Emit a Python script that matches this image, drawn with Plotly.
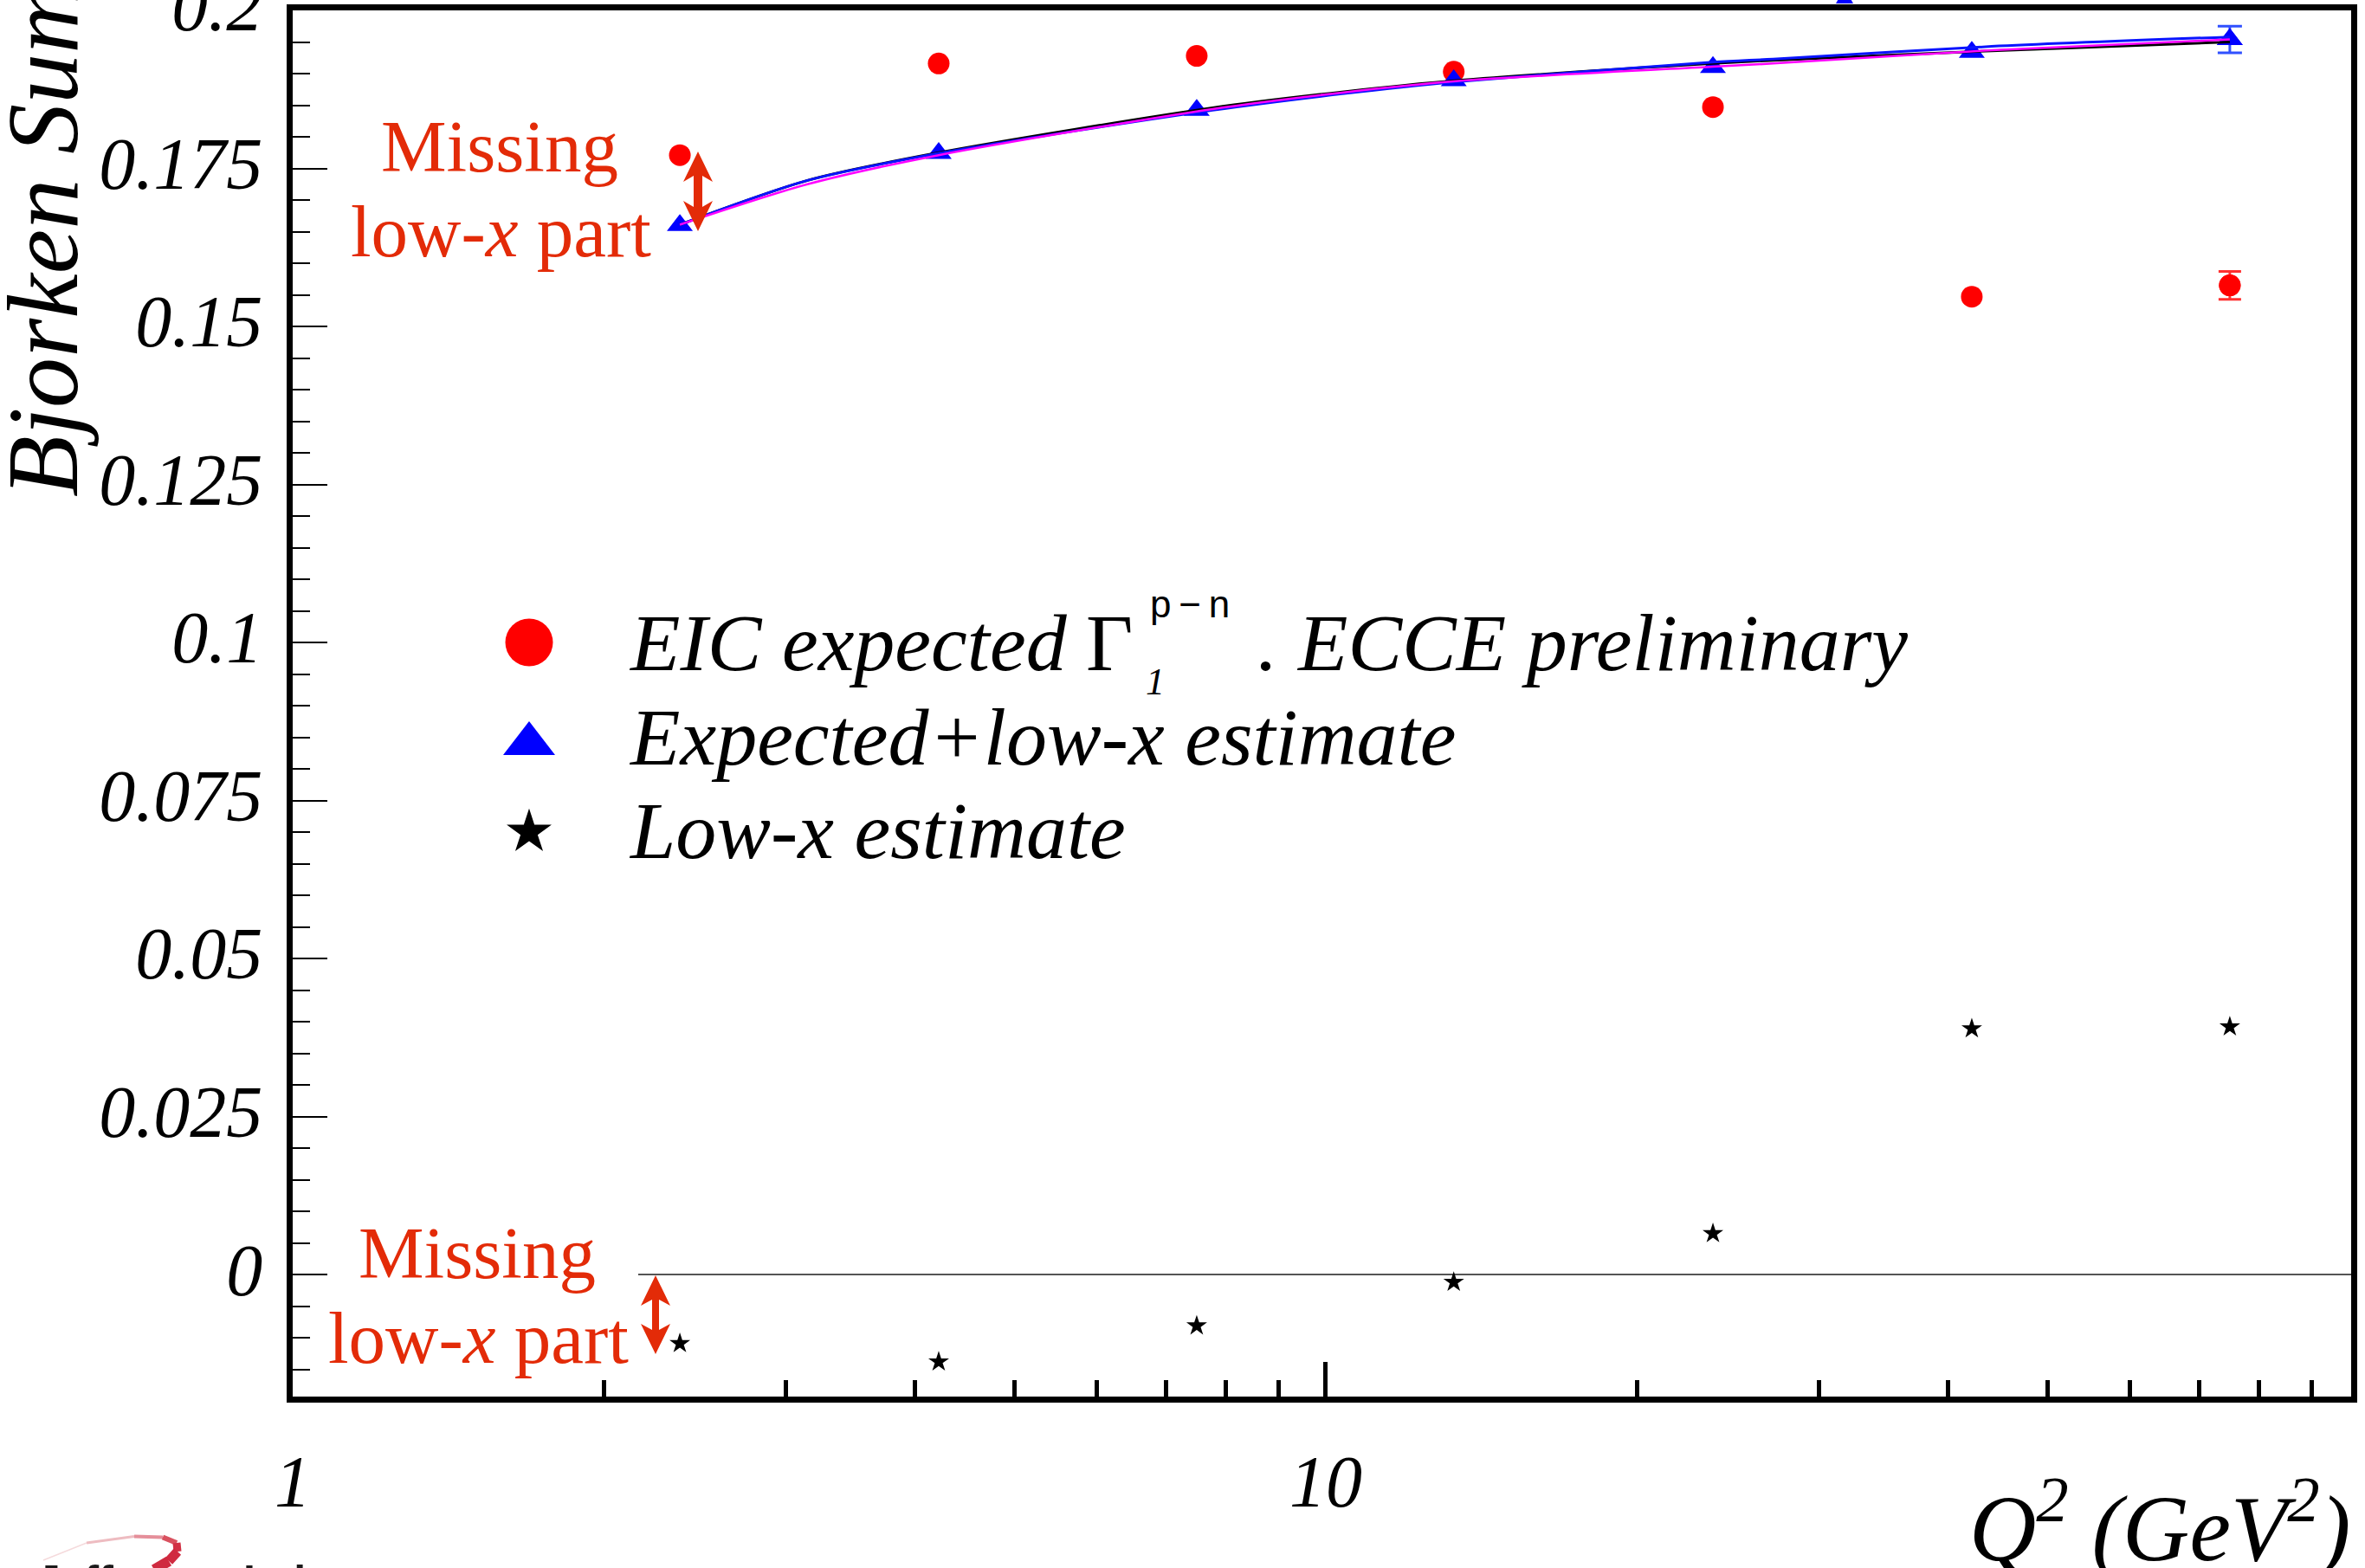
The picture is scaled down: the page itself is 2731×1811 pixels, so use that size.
import plotly.graph_objects as go

# ---------------------------------------------------------------- data
# Q^2 bins (GeV^2)
q2 = [2.37, 4.22, 7.5, 13.3, 23.7, 42.2, 75.0]

# EIC expected Gamma_1^{p-n} (ECCE preliminary)
gamma1_expected = [0.1771, 0.1916, 0.1928, 0.1903, 0.1847, 0.1547, 0.1565]
gamma1_expected_err = [0, 0, 0, 0, 0, 0, 0.0022]

# expected + low-x estimate
gamma1_total = [0.1660, 0.1774, 0.1842, 0.1889, 0.1910, 0.1934, 0.1954]
gamma1_total_err = [0, 0, 0, 0, 0, 0, 0.0021]

# low-x estimate alone
lowx_estimate = [-0.0109, -0.0138, -0.0081, -0.0012, 0.0065, 0.0389, 0.0392]

# pQCD expectations for the Bjorken sum
curve_q2 = [2.37, 3.15, 4.22, 7.77, 10.37, 13.36, 23.7, 27.1, 44.1, 75.0]
curve_blue = [0.1661, 0.1731, 0.1774, 0.1842, 0.1868, 0.1887, 0.1918, 0.1923, 0.1943, 0.1958]
curve_black = [0.1661, 0.1731, 0.1775, 0.1846, 0.1871, 0.1889, 0.1916, 0.1921, 0.1936, 0.1950]
curve_magenta = [0.1661, 0.1725, 0.1771, 0.1844, 0.1870, 0.1888, 0.1911, 0.1916, 0.1937, 0.1954]

# reference line at zero
zero_line_q2 = [2.16, 98.3]
zero_line_val = [0.0, 0.0]

# axis ticks
y_tickvals = [0, 0.025, 0.05, 0.075, 0.1, 0.125, 0.15, 0.175, 0.2]
y_ticktext = ["0", "0.025", "0.05", "0.075", "0.1", "0.125", "0.15", "0.175", "0.2"]
x_tickvals = [1, 10]
x_ticktext = ["1", "10"]
x_minorvals = [2, 3, 4, 5, 6, 7, 8, 9, 20, 30, 40, 50, 60, 70, 80, 90]

# ---------------------------------------------------------------- geometry
W, H = 2731, 1811
ML, MR, MT, MB = 338, 16, 12, 198
PW = W - ML - MR
PH = H - MT - MB

SERIF = "Liberation Serif"
SANS = "Liberation Sans"
RED_TXT = "#e32b08"


def px(x):
    """pixel column -> paper x"""
    return (x - ML) / PW


def py(y):
    """pixel row -> paper y"""
    return (H - MB - y) / PH


def pick(vals, errs):
    return [v for v, e in zip(vals, errs) if e > 0]


fig = go.Figure()

# zero reference line
fig.add_trace(go.Scatter(x=zero_line_q2, y=zero_line_val, mode="lines",
                         line=dict(color="#555555", width=2), showlegend=False,
                         hoverinfo="skip"))

# EIC expected (red circles), error bars only where they are visible
fig.add_trace(go.Scatter(
    x=pick(q2, gamma1_expected_err), y=pick(gamma1_expected, gamma1_expected_err),
    mode="markers", marker=dict(color="red", size=25),
    error_y=dict(type="data", array=[e for e in gamma1_expected_err if e > 0],
                 color="#ff3030", thickness=3, width=13),
    showlegend=False))
fig.add_trace(go.Scatter(x=q2, y=gamma1_expected, mode="markers",
                         marker=dict(color="red", size=25), showlegend=False))

# expected + low-x (blue triangles)
fig.add_trace(go.Scatter(
    x=pick(q2, gamma1_total_err), y=pick(gamma1_total, gamma1_total_err),
    mode="markers", marker=dict(color="blue", size=26, symbol="triangle-up"),
    error_y=dict(type="data", array=[e for e in gamma1_total_err if e > 0],
                 color="#3050ff", thickness=3, width=14),
    showlegend=False))
fig.add_trace(go.Scatter(x=q2, y=gamma1_total, mode="markers",
                         marker=dict(color="blue", size=26, symbol="triangle-up"),
                         showlegend=False))

# low-x estimate (stars)
fig.add_trace(go.Scatter(x=q2, y=lowx_estimate, mode="markers",
                         marker=dict(color="black", size=18, symbol="star"),
                         showlegend=False))

# pQCD curves
fig.add_trace(go.Scatter(x=curve_q2, y=curve_black, mode="lines", line_shape="spline",
                         line=dict(color="black", width=3, smoothing=0.8),
                         showlegend=False))
fig.add_trace(go.Scatter(x=curve_q2, y=curve_blue, mode="lines", line_shape="spline",
                         line=dict(color="#0a14ff", width=3, smoothing=0.8),
                         showlegend=False))
fig.add_trace(go.Scatter(x=curve_q2, y=curve_magenta, mode="lines", line_shape="spline",
                         line=dict(color="#ff00ff", width=2.5, smoothing=0.8),
                         showlegend=False))

# legend symbols, drawn on an overlay axis pair spanning the plot area
fig.add_trace(go.Scatter(x=[px(611)], y=[py(742)], xaxis="x2", yaxis="y2", mode="markers",
                         marker=dict(color="red", size=55), showlegend=False))
fig.add_trace(go.Scatter(x=[px(611)], y=[py(859)], xaxis="x2", yaxis="y2", mode="markers",
                         marker=dict(color="blue", size=52, symbol="triangle-up"),
                         showlegend=False))
fig.add_trace(go.Scatter(x=[px(611)], y=[py(961)], xaxis="x2", yaxis="y2", mode="markers",
                         marker=dict(color="black", size=39, symbol="star"),
                         showlegend=False))

annotations = []


def text(s, x, y_bottom, size, family=SERIF, color="black", xanchor="left",
         style="italic"):
    annotations.append(dict(
        text=s, xref="paper", yref="paper", x=px(x), y=py(y_bottom),
        xanchor=xanchor, yanchor="bottom", showarrow=False,
        font=dict(family=family, size=size, color=color, style=style)))


# legend texts
text("EIC expected", 724, 796, 94)
text("Γ", 1252, 796, 94, style="normal")
text("p\u2009\u2212\u2009n", 1326, 724, 44, family=SANS, style="normal")
text("1", 1321, 814, 44)
text(". ECCE preliminary", 1450, 796, 94)
text("Expected+low-x estimate", 724, 905, 94)
text("Low-x estimate", 724, 1013, 94)

# "Missing low-x part" labels
for cx, b1, b2 in [(577, 218, 316), (551, 1496, 1594)]:
    text("Missing", cx, b1, 85, color=RED_TXT, xanchor="center", style="normal")
    text("low-<i>x</i> part", cx + 1, b2, 85, color=RED_TXT, xanchor="center",
         style="normal")

# axis titles
annotations.append(dict(
    text="Bjorken Sum", xref="paper", yref="paper", x=px(50), y=py(576),
    xanchor="center", yanchor="bottom", textangle=-90, showarrow=False,
    font=dict(family=SERIF, size=116, color="black", style="italic")))
annotations.append(dict(
    text="Q<sup>2</sup> (GeV<sup>2</sup>)", xref="paper", yref="paper",
    x=px(2716), y=py(1828), xanchor="right", yanchor="bottom", showarrow=False,
    font=dict(family=SERIF, size=107, color="black", style="italic")))

# lab logo text at the bottom edge
annotations.append(dict(
    text="Jefferson Lab", xref="paper", yref="paper", x=px(40), y=py(1856),
    xanchor="left", yanchor="bottom", showarrow=False,
    font=dict(family=SANS, size=50, color="#1a1a1a", weight="bold")))

shapes = []


def poly(points, color):
    d = "M " + " L ".join(f"{px(x):.6f},{py(y):.6f}" for x, y in points) + " Z"
    shapes.append(dict(type="path", path=d, xref="paper", yref="paper",
                       fillcolor=color, line=dict(width=0), layer="above"))


def double_arrow(cx, ytop, ybot, hw=17, hl=35, sw=5, notch=7, color=RED_TXT):
    poly([(cx, ytop), (cx + hw, ytop + hl), (cx + sw, ytop + hl - notch),
          (cx + sw, ybot - hl + notch), (cx + hw, ybot - hl), (cx, ybot),
          (cx - hw, ybot - hl), (cx - sw, ybot - hl + notch),
          (cx - sw, ytop + hl - notch), (cx - hw, ytop + hl)], color)


double_arrow(806, 175, 267)
double_arrow(757, 1473, 1564, sw=4)

# small blue marker peeking in at the top edge
poly([(2120, 4), (2140, 4), (2130, -14)], "blue")

# logo swoosh
swoosh = [(50, 1802), (100, 1782), (155, 1774.5), (188, 1775.5), (204, 1782),
          (205, 1792), (195, 1803), (178, 1813)]
sw_w = [1.5, 3, 4, 6, 9, 11, 12]
sw_c = ["#f5dadc", "#eebcc1", "#e58f9a", "#d9515f", "#d23044", "#d02a40", "#cf2a3f"]
for (x0, y0), (x1, y1), w, c in zip(swoosh[:-1], swoosh[1:], sw_w, sw_c):
    shapes.append(dict(type="line", xref="paper", yref="paper",
                       x0=px(x0), y0=py(y0), x1=px(x1), y1=py(y1),
                       line=dict(color=c, width=w)))

tickfont = dict(family=SERIF, size=84, color="black", style="italic")

fig.update_layout(
    width=W, height=H,
    margin=dict(l=ML, r=MR, t=MT, b=MB, pad=0, autoexpand=False),
    paper_bgcolor="white", plot_bgcolor="white",
    showlegend=False,
    font=dict(family=SERIF, color="black"),
    annotations=annotations,
    shapes=shapes,
    xaxis=dict(
        type="log", range=[0, 1.9925], automargin=False,
        showline=True, linewidth=7, linecolor="black", mirror=True,
        showgrid=False, zeroline=False,
        ticks="inside", ticklen=40, tickwidth=5, tickcolor="black",
        tickmode="array", tickvals=x_tickvals, ticktext=x_ticktext,
        tickfont=tickfont, ticklabelstandoff=19, ticklabeloverflow="allow",
        minor=dict(ticks="inside", ticklen=19, tickwidth=5, tickcolor="black",
                   tickmode="array", tickvals=x_minorvals, showgrid=False),
    ),
    yaxis=dict(
        range=[-0.0193, 0.2], automargin=False,
        showline=True, linewidth=7, linecolor="black", mirror=True,
        showgrid=False, zeroline=False,
        ticks="inside", ticklen=40, tickwidth=2, tickcolor="black",
        tickmode="array", tickvals=y_tickvals, ticktext=y_ticktext,
        tickfont=tickfont, ticklabelstandoff=11, ticklabelshift=-6,
        ticklabeloverflow="allow",
        minor=dict(ticks="inside", ticklen=20, tickwidth=2, tickcolor="black",
                   tick0=0, dtick=0.005, showgrid=False),
    ),
    xaxis2=dict(overlaying="x", range=[0, 1], visible=False),
    yaxis2=dict(overlaying="y", range=[0, 1], visible=False),
)

fig.write_html("out.html")
